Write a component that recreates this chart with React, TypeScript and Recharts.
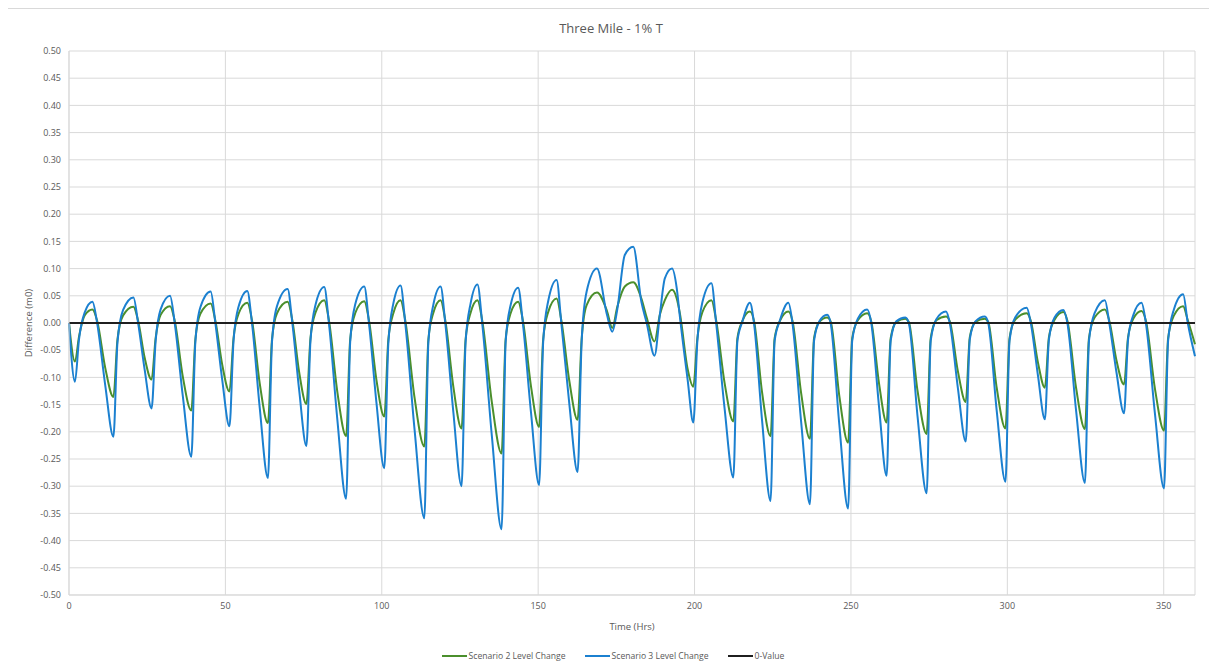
import { LineChart, Line, XAxis, YAxis, CartesianGrid, Legend } from "recharts"

// Hourly difference series, sampled at peaks, zero crossings and troughs of each tide
const hours = [
  0, 1.9, 3.2, 5.0,
  7.5, 9.0, 11.6, 14.2, 15.5, 17.3,
  20.6, 22.1, 24.2, 26.4, 27.7, 29.3,
  32.3, 33.8, 36.4, 39.1, 40.4, 42.0,
  45.3, 46.8, 49.0, 51.3, 52.6, 54.2,
  57.0, 58.5, 61.0, 63.6, 64.9, 66.5,
  69.9, 71.4, 73.6, 75.9, 77.2, 78.8,
  81.6, 83.1, 85.8, 88.6, 89.9, 91.5,
  94.4, 95.9, 98.3, 100.8, 102.1, 103.7,
  106.0, 107.5, 110.5, 113.6, 114.9, 116.5,
  118.8, 120.3, 122.9, 125.5, 126.8, 128.4,
  130.6, 132.1, 135.2, 138.3, 139.6, 141.2,
  143.6, 145.1, 147.7, 150.3, 151.6, 153.2,
  155.9, 157.4, 160.0, 162.6, 163.9, 165.5,
  168.8, 172.0, 173.7, 175.3, 177.7, 180.4, 183.0, 184.7, 187.2,
  188.9, 190.5, 192.8, 194.3, 195.3, 197.8, 199.6, 200.9, 202.5,
  205.4, 206.9, 209.6, 212.4, 213.7, 215.3,
  217.7, 219.0, 221.6, 224.3, 225.6, 227.3,
  230.0, 231.3, 234.1, 236.9, 238.2, 239.9,
  242.4, 243.5, 246.3, 249.1, 250.4, 252.2,
  255.2, 256.5, 259.0, 261.4, 262.7, 264.5,
  267.4, 268.5, 271.3, 274.2, 275.5, 277.3,
  280.4, 281.6, 284.2, 286.7, 288.0, 289.8,
  292.8, 293.9, 296.6, 299.4, 300.7, 302.5,
  306.2, 307.5, 309.8, 312.0, 313.3, 315.1,
  317.9, 319.2, 322.0, 324.8, 326.1, 327.9,
  331.2, 332.6, 334.9, 337.3, 338.6, 340.3,
  342.9, 344.3, 347.2, 350.1, 351.4, 353.2,
  356.2, 357.7, 360,
]

const scenario2 = [
  0, -0.071, -0.025, 0.014,
  0.025, 0.004, -0.083, -0.136, -0.030, 0.014,
  0.030, 0.004, -0.064, -0.104, -0.028, 0.015,
  0.031, 0.004, -0.099, -0.161, -0.030, 0.017,
  0.036, 0.004, -0.077, -0.126, -0.028, 0.017,
  0.037, 0.005, -0.112, -0.184, -0.030, 0.018,
  0.039, 0.005, -0.091, -0.149, -0.028, 0.019,
  0.042, 0.005, -0.127, -0.208, -0.030, 0.018,
  0.040, 0.005, -0.105, -0.172, -0.030, 0.018,
  0.042, 0.005, -0.138, -0.227, -0.030, 0.019,
  0.042, 0.005, -0.118, -0.194, -0.030, 0.019,
  0.042, 0.005, -0.146, -0.240, -0.030, 0.018,
  0.039, 0.005, -0.116, -0.191, -0.030, 0.020,
  0.045, 0.005, -0.108, -0.178, -0.030, 0.033,
  0.056, 0.022, -0.009, 0.030, 0.067, 0.075, 0.045, 0.010, -0.034,
  0.015, 0.042, 0.061, 0.045, 0.018, -0.085, -0.117, -0.028, 0.020,
  0.042, 0.005, -0.110, -0.181, -0.028, 0.004,
  0.021, 0.004, -0.128, -0.208, -0.028, 0.004,
  0.021, 0.004, -0.130, -0.213, -0.028, 0.002,
  0.010, 0.003, -0.135, -0.220, -0.028, 0.005,
  0.018, 0.003, -0.112, -0.183, -0.028, 0.002,
  0.008, 0.002, -0.125, -0.204, -0.028, 0.005,
  0.012, 0.003, -0.089, -0.145, -0.026, 0.002,
  0.008, 0.002, -0.119, -0.194, -0.028, 0.006,
  0.018, 0.004, -0.073, -0.119, -0.026, 0.006,
  0.020, 0.004, -0.120, -0.195, -0.028, 0.010,
  0.025, 0.004, -0.069, -0.113, -0.026, 0.008,
  0.022, 0.004, -0.121, -0.198, -0.028, 0.013,
  0.031, 0.005, -0.039,
]

const scenario3 = [
  0, -0.108, -0.030, 0.019,
  0.039, 0, -0.115, -0.209, -0.035, 0.024,
  0.047, 0, -0.086, -0.157, -0.033, 0.025,
  0.050, 0, -0.135, -0.246, -0.035, 0.029,
  0.058, 0, -0.105, -0.190, -0.033, 0.030,
  0.059, 0, -0.157, -0.285, -0.035, 0.031,
  0.0625, 0, -0.124, -0.226, -0.033, 0.033,
  0.066, 0, -0.178, -0.323, -0.035, 0.034,
  0.067, 0, -0.147, -0.267, -0.037, 0.036,
  0.069, 0, -0.197, -0.359, -0.035, 0.034,
  0.067, 0, -0.165, -0.300, -0.035, 0.036,
  0.071, 0, -0.208, -0.379, -0.035, 0.033,
  0.065, 0, -0.164, -0.298, -0.035, 0.040,
  0.079, 0, -0.151, -0.274, -0.034, 0.058,
  0.100, 0.015, -0.016, 0.025, 0.125, 0.140, 0.039, 0.000, -0.060,
  0.015, 0.082, 0.100, 0.064, 0.012, -0.105, -0.183, -0.033, 0.038,
  0.073, 0, -0.157, -0.284, -0.033, 0.003,
  0.037, 0, -0.180, -0.327, -0.033, 0.005,
  0.037, 0, -0.183, -0.333, -0.033, 0.003,
  0.015, 0, -0.188, -0.341, -0.033, 0.008,
  0.025, 0, -0.155, -0.281, -0.033, 0.003,
  0.010, 0, -0.172, -0.313, -0.033, 0.007,
  0.021, 0, -0.120, -0.218, -0.030, 0.003,
  0.012, 0, -0.161, -0.292, -0.033, 0.010,
  0.028, 0, -0.097, -0.177, -0.030, 0.010,
  0.024, 0, -0.162, -0.294, -0.033, 0.018,
  0.042, 0, -0.091, -0.166, -0.030, 0.015,
  0.037, 0, -0.167, -0.304, -0.033, 0.024,
  0.053, 0, -0.061,
]

const xTicks = [0, 50, 100, 150, 200, 250, 300, 350]
const yTicks = [
  -0.5, -0.45, -0.4, -0.35, -0.3, -0.25, -0.2, -0.15, -0.1, -0.05, 0,
  0.05, 0.1, 0.15, 0.2, 0.25, 0.3, 0.35, 0.4, 0.45, 0.5,
]

const GREEN = "#4b8f2c"
const BLUE = "#1b80d0"
const BLACK = "#1f1f1f"
const GRID = "#d9d9d9"
const TEXT = "#595959"
const FONT = "'Open Sans', 'Noto Sans', sans-serif"

const legendItems = [
  { name: "Scenario 2 Level Change", color: GREEN },
  { name: "Scenario 3 Level Change", color: BLUE },
  { name: "0-Value", color: BLACK },
]

const data = hours.map((t, i) => ({
  time: t,
  s2: scenario2[i],
  s3: scenario3[i],
  zero: 0,
}))

const W = 1206
const H = 659

function LegendRow() {
  return (
    <div
      style={{
        display: "flex",
        justifyContent: "center",
        alignItems: "center",
        gap: 19,
        height: 20,
        fontSize: 8.6,
        color: TEXT,
        fontFamily: FONT,
        paddingLeft: 4,
      }}
    >
      {legendItems.map((it) => (
        <div key={it.name} style={{ display: "flex", alignItems: "center" }}>
          <span
            style={{ display: "inline-block", width: 25, height: 2, background: it.color, marginRight: 2 }}
          />
          {it.name}
        </div>
      ))}
    </div>
  )
}

export default function App() {
  return (
    <div
      style={{
        position: "relative",
        width: 1208,
        height: 660,
        marginLeft: -1,
        border: `1px solid ${GRID}`,
        borderBottom: "none",
        boxSizing: "border-box",
        background: "#fff",
      }}
    >
      <div
        style={{
          position: "absolute",
          top: 11,
          left: 0,
          width: W,
          textAlign: "center",
          fontSize: 13,
          lineHeight: "16px",
          color: TEXT,
          fontFamily: FONT,
        }}
      >
        Three Mile - 1% T
      </div>
      <LineChart width={W} height={H} data={data} margin={{ top: 42, right: 19, left: 0, bottom: 2 }}>
        <CartesianGrid stroke={GRID} strokeWidth={1} />
        <XAxis
          dataKey="time"
          type="number"
          domain={[0, 360]}
          ticks={xTicks}
          height={51}
          tickSize={0}
          tickMargin={8}
          axisLine={{ stroke: GRID }}
          tick={{ fontSize: 9, fill: TEXT, fontFamily: FONT }}
          label={{
            content: () => (
              <text x={624} y={617} textAnchor="middle" dominantBaseline="central" fontSize={9.5} fill={TEXT} fontFamily={FONT}>
                Time (Hrs)
              </text>
            ),
          }}
        />
        <YAxis
          type="number"
          domain={[-0.5, 0.5]}
          ticks={yTicks}
          width={61}
          tickSize={0}
          tickMargin={8}
          axisLine={{ stroke: GRID }}
          tickFormatter={(v: number) => v.toFixed(2)}
          tick={{ fontSize: 9, fill: TEXT, fontFamily: FONT }}
          label={{
            content: () => (
              <text
                x={20}
                y={314}
                transform="rotate(-90 20 314)"
                textAnchor="middle"
                dominantBaseline="central"
                fontSize={9.5}
                fill={TEXT}
                fontFamily={FONT}
              >
                Difference (m0)
              </text>
            ),
          }}
        />
        <Legend
          verticalAlign="bottom"
          content={() => <LegendRow />}
          wrapperStyle={{ left: 0, width: W, bottom: 2 }}
        />
        <Line
          type="monotone"
          dataKey="s2"
          name="Scenario 2 Level Change"
          stroke={GREEN}
          strokeWidth={2}
          dot={false}
          isAnimationActive={false}
        />
        <Line
          type="monotone"
          dataKey="s3"
          name="Scenario 3 Level Change"
          stroke={BLUE}
          strokeWidth={2}
          dot={false}
          isAnimationActive={false}
        />
        <Line
          type="linear"
          dataKey="zero"
          name="0-Value"
          stroke={BLACK}
          strokeWidth={2}
          dot={false}
          isAnimationActive={false}
        />
      </LineChart>
    </div>
  )
}
